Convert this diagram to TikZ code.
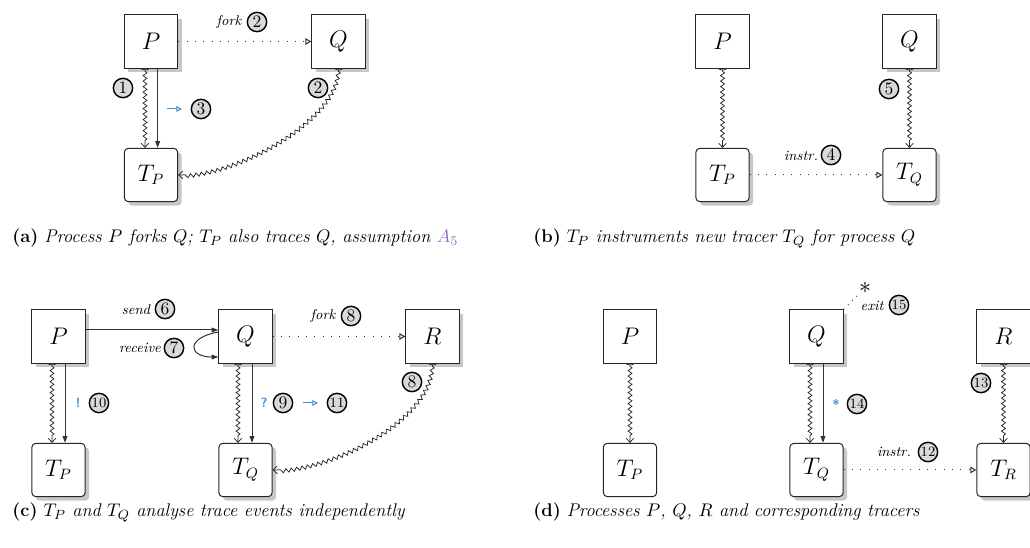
\documentclass[tikz,border=0pt]{standalone}
\usetikzlibrary{arrows.meta,decorations.pathmorphing,shadows,calc}
\definecolor{evblue}{RGB}{70,140,205}
\definecolor{asmpurple}{RGB}{150,110,200}
\definecolor{tagfill}{RGB}{218,218,218}
\begin{document}
\begin{tikzpicture}[x=0.6pt,y=-0.6pt,
  boxbase/.style={draw=black!85, line width=0.6pt, fill=white, minimum size=32pt,
    inner sep=0pt, font=\fontsize{13.5}{13.5}\selectfont},
  proc/.style={boxbase},
  procsh/.style={boxbase, drop shadow={shadow xshift=2.4pt, shadow yshift=-2.4pt, fill=black!22, opacity=1}},
  tracer/.style={boxbase, rounded corners=2.4pt},
  tracersh/.style={tracer, drop shadow={shadow xshift=2.4pt, shadow yshift=-2.4pt, fill=black!22, opacity=1}},
  tag/.style={circle, draw=black, line width=0.85pt, fill=tagfill, minimum size=11.6pt,
    inner sep=0pt, font=\fontsize{10.5}{10.5}\selectfont},
  tagii/.style={tag, font=\fontsize{8.5}{8.5}\selectfont},
  lbl/.style={inner sep=0pt, font=\fontsize{8.5}{8.5}\selectfont\itshape},
  evmark/.style={inner sep=0pt, text=evblue, font=\fontsize{8}{8}\selectfont\bfseries\sffamily},
  wave/.style={draw=black!85, line width=0.45pt,
    {Parenthesis[reversed,width=6pt,length=1.5pt]}-{Straight Barb[length=2.4pt,width=4.6pt]},
    decorate, decoration={snake, amplitude=1.15pt, segment length=3.3pt, pre length=1.5pt, post length=3pt}},
  ctrl/.style={draw=black!80, line width=0.6pt, -{Triangle[length=4pt,width=2.8pt]}},
  spawn/.style={draw=black!80, line width=0.6pt, dash pattern=on 0.6pt off 4.4pt,
    -{Triangle[open,length=3.6pt,width=4pt]}},
  hop/.style={draw=evblue, line width=0.6pt, -{Triangle[open,length=3.4pt,width=3.4pt]}},
  capt/.style={inner sep=0pt, anchor=base west, font=\fontsize{11}{13}\selectfont}
]
\useasboundingbox (0,0) rectangle (1030,548);

% ---------- (a) ----------
\node[procsh] (aP) at (151,41.5) {$P$};
\node[procsh] (aQ) at (338.5,41.5) {$Q$};
\node[tracersh] (aTP) at (151,175) {$T_P$};
\draw[spawn] (aP) -- (aQ);
\draw[wave] ([xshift=-3.6pt]aP.south) -- ([xshift=-3.6pt]aTP.north);
\draw[ctrl] ([xshift=4pt]aP.south) -- ([xshift=4pt]aTP.north);
\draw[wave] (aQ.south) .. controls +(0,50) and +(60,0) .. (aTP.east);
\node[lbl] (afork) at (229,22) {fork};
\node[tag] (a2f) at (257,22) {2};
\node[tag] (a1) at (123,88) {1};
\node[tag] (a2) at (318,88) {2};
\coordinate (a3s) at (167,109);
\coordinate (a3e) at (182,109);
\draw[hop] (a3s) -- (a3e);
\node[tag] (a3) at (201,109) {3};
\node[capt] (capa) at (12,243) {\textbf{(a)} \textit{Process $P$ forks $Q$; $T_P$ also traces $Q$, assumption} \textcolor{asmpurple}{$A_5$}};

% ---------- (b) ----------
\node[proc] (bP) at (722.5,41.5) {$P$};
\node[procsh] (bQ) at (909.5,41.5) {$Q$};
\node[tracersh] (bTP) at (722.5,175) {$T_P$};
\node[tracersh] (bTQ) at (909.5,175) {$T_Q$};
\draw[wave] (bP.south) -- (bTP.north);
\draw[wave] (bQ.south) -- (bTQ.north);
\draw[spawn] (bTP) -- (bTQ);
\node[tag] (b5) at (889,89) {5};
\node[lbl] (binstr) at (801,156) {instr.};
\node[tag] (b4) at (831,155) {4};
\node[capt] (capb) at (533,243) {\textbf{(b)} \textit{$T_P$ instruments new tracer $T_Q$ for process $Q$}};

% ---------- (c) ----------
\node[procsh] (cP) at (58.5,336.5) {$P$};
\node[procsh] (cQ) at (245.5,336.5) {$Q$};
\node[procsh] (cR) at (432.5,336.5) {$R$};
\node[tracersh] (cTP) at (58.5,470) {$T_P$};
\node[tracersh] (cTQ) at (245.5,470) {$T_Q$};
\draw[ctrl] ([yshift=3.9pt]cP.east) -- ([yshift=3.9pt]cQ.west);
\draw[ctrl] ([yshift=2.7pt]cQ.west) .. controls +(-33,6) and +(-30,0) .. ([yshift=-12.3pt]cQ.west);
\draw[spawn] (cQ) -- (cR);
\draw[wave] ([xshift=-3.9pt]cP.south) -- ([xshift=-3.9pt]cTP.north);
\draw[ctrl] ([xshift=3.9pt]cP.south) -- ([xshift=3.9pt]cTP.north);
\draw[wave] ([xshift=-4.5pt]cQ.south) -- ([xshift=-4.5pt]cTQ.north);
\draw[ctrl] ([xshift=3.9pt]cQ.south) -- ([xshift=3.9pt]cTQ.north);
\draw[wave] (cR.south) .. controls +(0,55) and +(60,0) .. (cTQ.east);
\node[lbl] (csend) at (136,310) {send};
\node[tag] (c6) at (165,309) {6};
\node[lbl] (crecv) at (140,348) {receive};
\node[tag] (c7) at (174,348) {7};
\node[lbl] (cfork) at (323,316) {fork};
\node[tag] (c8f) at (351,316) {8};
\node[tag] (c8) at (412,382) {8};
\node[evmark] (cbang) at (78,403) {!};
\node[tagii] (c10) at (99,403) {10};
\node[evmark] (cquery) at (264,403) {?};
\node[tag] (c9) at (283,403) {9};
\coordinate (c11s) at (303,403);
\coordinate (c11e) at (318,403);
\draw[hop] (c11s) -- (c11e);
\node[tagii] (c11) at (337,403) {11};
\node[capt] (capc) at (12,517) {\textbf{(c)} \textit{$T_P$ and $T_Q$ analyse trace events independently}};

% ---------- (d) ----------
\node[proc] (dP) at (630,336.5) {$P$};
\node[procsh] (dQ) at (816.5,336.5) {$Q$};
\node[procsh] (dR) at (1003.5,336.5) {$R$};
\node[tracer] (dTP) at (630,470) {$T_P$};
\node[tracersh] (dTQ) at (816.5,470) {$T_Q$};
\node[tracersh] (dTR) at (1003.5,470) {$T_R$};
\draw[wave] (dP.south) -- (dTP.north);
\draw[wave] ([xshift=-3.9pt]dQ.south) -- ([xshift=-3.9pt]dTQ.north);
\draw[ctrl] ([xshift=3.9pt]dQ.south) -- ([xshift=3.9pt]dTQ.north);
\draw[wave] (dR.south) -- (dTR.north);
\draw[spawn] (dTQ) -- (dTR);
\node[inner sep=0pt, font=\fontsize{14}{14}\selectfont] (dstar) at (865,288) {$\ast$};
\draw[draw=black!80, line width=0.6pt, dash pattern=on 0.6pt off 3pt] (dQ.north east) -- (dstar);
\node[lbl] (dexit) at (872,306) {exit};
\node[tagii] (d15) at (899,305) {15};
\node[evmark] (dast) at (836,405) {*};
\node[tagii] (d14) at (857,404) {14};
\node[tagii] (d13) at (981,383) {13};
\node[lbl] (dinstr) at (894,452) {instr.};
\node[tagii] (d12) at (928,452) {12};
\node[capt] (capd) at (533,517) {\textbf{(d)} \textit{Processes $P$, $Q$, $R$ and corresponding tracers}};
\end{tikzpicture}
\end{document}
